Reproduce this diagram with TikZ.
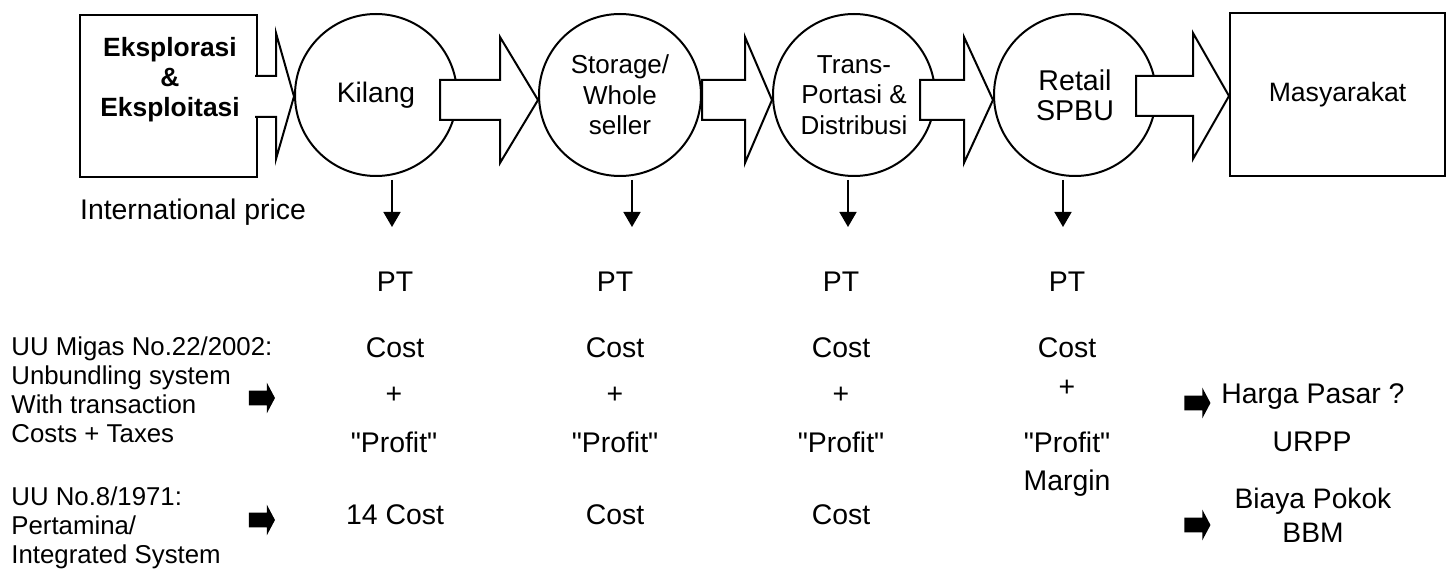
\documentclass[tikz,border=0pt]{standalone}
\usepackage{fontspec}
\setmainfont{Liberation Sans}
\usetikzlibrary{arrows.meta,shapes.arrows,calc}

\begin{document}
\begin{tikzpicture}[x=0.5pt,y=-0.5pt,>={Triangle[width=8.5pt,length=7.5pt]}]
\tikzset{
  stage/.style={draw,shape=circle,line width=1pt,minimum size=81pt,inner sep=0pt,align=center,font=\fontsize{13}{15.3}\selectfont},
  endbox/.style={draw,shape=rectangle,line width=1pt,inner sep=0pt},
  flow/.style={draw,fill=white,line width=1pt,line join=miter},
  txt/.style={inner sep=0pt,font=\fontsize{14.2}{16}\selectfont},
  law/.style={inner sep=0pt,anchor=west,align=left,font=\fontsize{12.9}{14.5}\selectfont},
  pointer/.style={single arrow,fill=black,inner sep=3.5pt,minimum height=13pt,single arrow head extend=4pt,single arrow tip angle=124}
}
\useasboundingbox (0,0) rectangle (1447,572);

% chain of stages
\node[endbox,minimum width=88.5pt,minimum height=81pt] (expl) at (168.5,96) {};
\node[inner sep=0pt,align=center,font=\bfseries\fontsize{13.2}{15}\selectfont] (expl-label) at (170,80) {Eksplorasi\\\&\\Eksploitasi};
\node[stage,font=\fontsize{14.1}{16}\selectfont] (kilang) at (376,95) {Kilang};
\node[stage] (storage) at (620,95) {Storage/\\Whole\\seller};
\node[stage] (trans) at (854,95) {Trans-\\Portasi \&\\Distribusi};
\node[stage,font=\fontsize{14.3}{15}\selectfont] (retail) at (1075,95) {Retail\\SPBU};
\node[endbox,minimum width=107.5pt,minimum height=81.5pt,font=\fontsize{13.3}{15}\selectfont] (masy) at (1337.5,94.5) {Masyarakat};

% block arrows between the stages
\filldraw[flow] ($(expl.east)+(-3,-20)$) -- ($(kilang.west)+(-18,-19)$) -- ($(kilang.west)+(-18,-62)$) -- ($(kilang.west)+(0,1.5)$)
  -- ($(kilang.west)+(-18,64)$) -- ($(kilang.west)+(-18,22)$) -- ($(expl.east)+(-3,21)$);
\foreach \from/\to/\ov/\hl/\dy in {kilang/storage/18/38/5,storage/trans/0/27/5,trans/retail/16/29/5,retail/masy/21/36/1.5}
  \filldraw[flow] ($(\from.east |- \to.west)+(-\ov,\dy-20)$) -- ($(\to.west)+(-\hl,\dy-20)$) -- ($(\to.west)+(-\hl,\dy-63)$)
    -- ($(\to.west)+(0,\dy)$) -- ($(\to.west)+(-\hl,\dy+63)$) -- ($(\to.west)+(-\hl,\dy+20)$)
    -- ($(\from.east |- \to.west)+(-\ov,\dy+20)$) -- cycle;

\node[txt] (intl) at (193,212) {International price};

% down arrows to the companies
\foreach \src/\x in {kilang/392,storage/632,trans/848,retail/1063}{
  \coordinate (\src-out) at (\x,227);
  \draw[->,line width=0.8pt,shorten <=1.5pt] (\src.south -| \src-out) -- (\src-out);
}

\foreach \col/\x in {kil/395,sto/615,tra/841,ret/1067}{
  \node[txt] (pt-\col) at (\x,282) {PT};
  \node[txt] (cost-\col) at (\x,348) {Cost};
}
\foreach \col/\x in {kil/394,sto/615,tra/841}{
  \node[txt] (plus-\col) at (\x,395) {+};
  \node[txt] (profit-\col) at (\x,442) {\textquotedbl Profit\textquotedbl};
}
\node[txt] (plus-ret) at (1067,388) {+};
\node[txt] (profit-ret) at (1067,442) {\textquotedbl Profit\textquotedbl};
\node[txt] (margin) at (1067,483) {Margin};
\node[txt] (base-kil) at (395,515) {14 Cost};
\node[txt] (base-sto) at (615,515) {Cost};
\node[txt] (base-tra) at (841,515) {Cost};

% laws and resulting prices
\node[law] (uu22) at (11,390) {UU Migas No.22/2002:\\Unbundling system\\With transaction\\Costs + Taxes};
\node[law] (uu8) at (11,528) {UU No.8/1971:\\Pertamina/\\Integrated System};
\node[pointer] (p-uu22) at (260,398) {};
\node[pointer] (p-uu8) at (260,520) {};
\node[pointer] (p-pasar) at (1195.5,403) {};
\node[pointer] (p-pokok) at (1195.5,525) {};
\node[txt] (pasar) at (1313,397) {Harga Pasar ?};
\node[txt] (urpp) at (1312,442) {URPP};
\node[txt,align=center,font=\fontsize{14.1}{17}\selectfont] (pokok) at (1313,515) {Biaya Pokok\\BBM};
\end{tikzpicture}
\end{document}
